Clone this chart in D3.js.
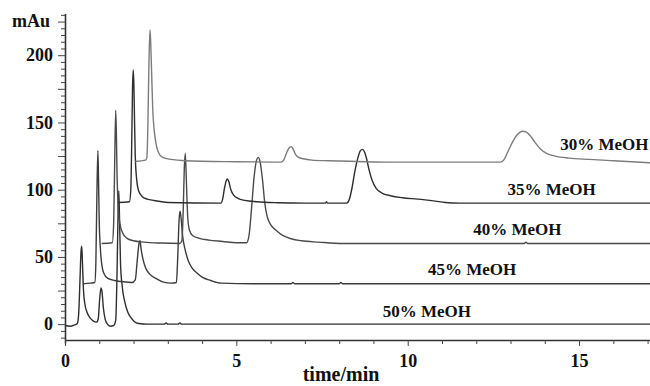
<!DOCTYPE html>
<html>
<head>
<meta charset="utf-8">
<script src="https://cdn.jsdelivr.net/npm/d3@7"></script>
<style>
  body { margin: 0; background: #fff; }
  svg text { font-family: "Liberation Serif", "Times New Roman", serif; font-weight: bold; fill: #111; }
</style>
</head>
<body>
<svg id="chart" width="650" height="386"></svg>
<script>
// chromatogram traces, [time (min), signal (mAu)] as plotted (already offset)
var trace50 = [[0.00,-1],[0.15,-1.5],[0.28,-0.5],[0.36,0.5],[0.40,8],[0.44,35],[0.47,55],[0.49,58],[0.51,45],[0.54,25],[0.58,15],[0.64,9],[0.72,5],[0.82,2.5],[0.92,1.5],[0.97,4],[1.01,18],[1.05,27],[1.08,24],[1.12,12],[1.17,4],[1.24,0],[1.32,-1.5],[1.42,-1],[1.48,3],[1.52,40],[1.55,85],[1.57,99],[1.59,80],[1.62,45],[1.67,28],[1.75,16],[1.83,9],[1.92,5],[2.02,2],[2.15,0.5],[2.4,0],[2.9,0],[2.95,1],[3.0,0],[3.3,0],[3.35,1],[3.4,0],[17.1,0]];
var trace45 = [[0.52,30],[0.75,30.5],[0.87,31],[0.90,45],[0.93,95],[0.96,129],[0.98,105],[1.00,75],[1.03,57],[1.07,45],[1.13,38],[1.25,34],[1.45,32.5],[1.7,31.5],[1.95,31],[2.05,33],[2.11,48],[2.16,60],[2.19,62],[2.22,56],[2.27,49],[2.35,42],[2.48,37],[2.65,34],[2.85,31.5],[3.1,30.5],[3.25,31],[3.29,50],[3.33,78],[3.36,84],[3.39,78],[3.43,66],[3.5,56],[3.6,47],[3.7,42],[3.85,38],[4.0,35],[4.25,32.5],[4.55,30.5],[5.5,30],[6.6,30],[6.65,31],[6.7,30],[8.0,30],[8.05,31],[8.1,30],[17.1,30]];
var trace40 = [[1.07,60],[1.38,60.5],[1.42,75],[1.45,120],[1.48,159],[1.50,140],[1.52,110],[1.55,88],[1.60,75],[1.68,68],[1.80,64],[2.0,62],[2.3,61],[2.8,60.3],[3.35,60],[3.41,62],[3.45,85],[3.48,115],[3.51,127],[3.54,108],[3.58,80],[3.63,70],[3.72,66],[3.9,64],[4.2,62.5],[4.6,61.5],[5.0,60.5],[5.3,60.5],[5.37,66],[5.44,85],[5.52,110],[5.59,122],[5.64,124],[5.69,121],[5.76,108],[5.83,90],[5.9,80],[6.0,74],[6.15,70],[6.35,66],[6.6,63.5],[6.9,62],[7.4,61],[8.1,60],[13.4,60],[13.45,61],[13.5,60],[17.1,60]];
var trace35 = [[1.55,90.5],[1.88,91],[1.92,100],[1.95,140],[1.97,175],[1.99,189],[2.01,178],[2.03,150],[2.05,125],[2.09,108],[2.15,99],[2.25,95],[2.4,93],[2.6,92],[3.0,90.5],[4.55,90],[4.6,93],[4.66,102],[4.71,107],[4.74,108],[4.78,106],[4.84,100],[4.92,96],[5.05,93.5],[5.25,92],[5.6,91],[6.2,90.3],[7.0,90],[7.6,90],[7.63,91],[7.66,90],[8.22,90],[8.3,93],[8.38,102],[8.46,114],[8.55,124],[8.62,129],[8.68,130],[8.74,128],[8.8,123],[8.88,114],[8.96,107],[9.08,101],[9.25,97.5],[9.5,95.5],[9.85,94],[10.3,93],[10.8,91.5],[11.1,90.5],[11.5,90],[17.1,90]];
var trace30 = [[2.05,121],[2.35,122],[2.39,124],[2.42,150],[2.45,195],[2.48,219],[2.50,210],[2.53,185],[2.56,160],[2.60,145],[2.65,135],[2.72,128],[2.85,124],[3.1,122.5],[3.5,121.5],[5.0,120.8],[6.3,120.5],[6.38,122],[6.46,127],[6.54,131],[6.6,132],[6.66,130],[6.73,126],[6.82,124],[6.95,123],[7.2,122],[7.7,121.5],[8.5,121],[9.5,120.5],[12.7,120.5],[12.8,122],[12.92,128],[13.05,135],[13.2,141],[13.35,143.5],[13.45,143],[13.58,140],[13.72,135],[13.88,130],[14.05,127],[14.3,125],[14.7,123.5],[15.3,122.5],[16.0,121.5],[17.1,120]];

var series = [trace50, trace45, trace40, trace35, trace30];
var seriesNames = ["50% MeOH", "45% MeOH", "40% MeOH", "35% MeOH", "30% MeOH"];
var seriesColors = ["#2e2e2e", "#3c3c3c", "#4a4a4a", "#2e2e2e", "#7c7c7c"];
// where each name is written, in data units [time, mAu]
var labelAt = [[10.56, 5.4], [11.88, 36.4], [13.2, 66.2], [14.2, 95.9], [15.74, 129.4]];

var yTickValues = d3.range(-10, 231, 5);
var xTickValues = d3.range(0, 18, 1);

var svg = d3.select("#chart");
var x = d3.scaleLinear().domain([0, 17.07]).range([65, 650]);
var y = d3.scaleLinear().domain([-14, 231]).range([343, 13.5]);

// traces
var line = d3.line()
    .x(function(d) { return x(d[0]); })
    .y(function(d) { return y(d[1]); })
    .curve(d3.curveMonotoneX);

svg.append("g").attr("class", "traces")
    .selectAll("path")
    .data(series)
  .enter().append("path")
    .attr("d", line)
    .style("fill", "none")
    .style("stroke", function(d, i) { return seriesColors[i]; })
    .style("stroke-width", 1.4)
    .style("stroke-linejoin", "round");

// series names
svg.append("g").selectAll("text")
    .data(seriesNames)
  .enter().append("text")
    .attr("x", function(d, i) { return x(labelAt[i][0]); })
    .attr("y", function(d, i) { return y(labelAt[i][1]); })
    .attr("text-anchor", "middle")
    .style("font-size", "17px")
    .text(function(d) { return d; });

// y axis
var yAxis = d3.axisLeft(y)
    .tickValues(yTickValues)
    .tickSizeOuter(0)
    .tickFormat(function(d) { return d % 50 === 0 ? d : ""; });
var gy = svg.append("g").attr("transform", "translate(65,0)").call(yAxis);
gy.selectAll(".tick line").attr("x2", function(d) { return d % 25 === 0 ? -7 : -4; });
gy.selectAll(".tick text").attr("x", -12).style("font-size", "18px");

// x axis
var xAxis = d3.axisBottom(x)
    .tickValues(xTickValues)
    .tickSizeOuter(0)
    .tickFormat(function(d) { return d % 5 === 0 ? d : ""; });
var gx = svg.append("g").attr("transform", "translate(0,340)").call(xAxis);
gx.selectAll(".tick line").attr("y2", function(d) { return d % 5 === 0 ? 6 : 4; });
gx.selectAll(".tick text").attr("y", 14).style("font-size", "18px");

svg.selectAll(".domain").style("stroke", "#333").style("stroke-width", 1.6);
svg.selectAll(".tick line").style("stroke", "#444").style("stroke-width", 1);
svg.selectAll(".tick text").style("font-family", "Liberation Serif").style("font-weight", "bold").style("fill", "#111");

// axis titles
svg.append("text")
    .attr("x", 12).attr("y", 27)
    .style("font-size", "18px")
    .text("mAu");
svg.append("text")
    .attr("x", 341).attr("y", 381)
    .attr("text-anchor", "middle")
    .style("font-size", "20px")
    .text("time/min");
</script>
</body>
</html>
